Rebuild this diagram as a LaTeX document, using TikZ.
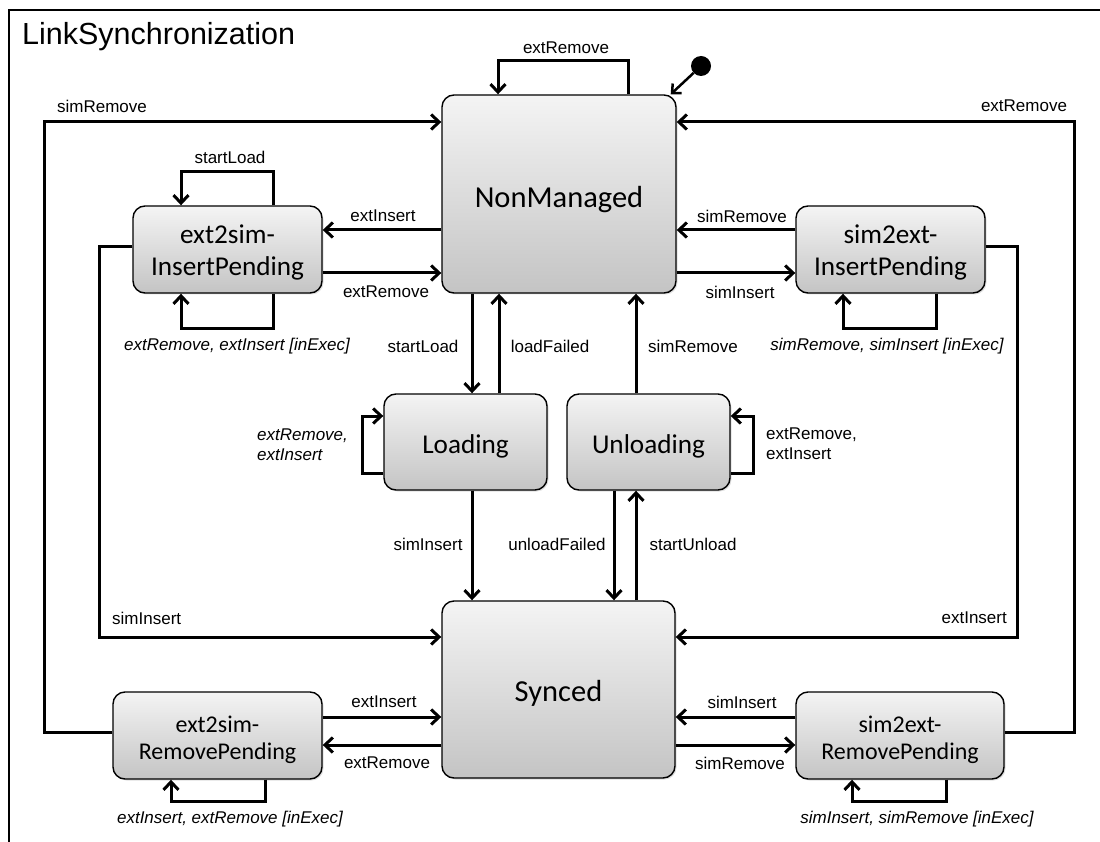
\documentclass[tikz,border=0pt]{standalone}
\usepackage{fontspec}
\setmainfont{Liberation Sans}
\newfontfamily\statefont{Carlito}
\usetikzlibrary{arrows.meta,shadows}

\definecolor{stTop}{RGB}{244,244,244}
\definecolor{stBot}{RGB}{196,196,196}

% state name, set a little below the box centre
\newcommand\stname[2][5pt]{\raisebox{-#1}[\height][\depth]{\begin{tabular}{@{}c@{}}#2\end{tabular}}}

\begin{document}
\begin{tikzpicture}[x=1pt,y=-1pt,
  conn/.style={line width=3pt, -{Straight Barb[length=8pt,width=15pt]}},
  st/.style={draw, line width=1.4pt, rounded corners=12pt,
    top color=stTop, bottom color=stBot, inner sep=0pt, align=center,
    drop shadow={shadow xshift=1.5pt, shadow yshift=-1.5pt, opacity=0.25}},
  bigst/.style={st, font=\statefont\fontsize{30.5}{36}\selectfont},
  midst/.style={st, font=\statefont\fontsize{27.2}{32}\selectfont},
  smallst/.style={st, font=\statefont\fontsize{24}{27}\selectfont},
  lbl/.style={font=\fontsize{17}{20}\selectfont, inner sep=0pt},
  ilbl/.style={font=\fontsize{17}{20}\selectfont\itshape, inner sep=0pt},
]
\useasboundingbox (0,0) rectangle (1100,842);

% frame and title
\draw[line width=1.5pt] (9,842) -- (9,10) -- (1100,10);
\node[anchor=west, inner sep=0pt, font=\fontsize{30.5}{36}\selectfont] (title) at (22,37) {LinkSynchronization};

% states
\node[bigst, minimum width=234, minimum height=198] (nm) at (559,194) {\stname[6pt]{NonManaged}};
\node[bigst, minimum width=233, minimum height=177] (sy) at (558.5,689.5) {\stname[5pt]{Synced}};
\node[midst, minimum width=189, minimum height=87] (eip) at (227.5,249.5) {\stname[4pt]{ext2sim-\\InsertPending}};
\node[midst, minimum width=189, minimum height=87] (sip) at (890.5,249.5) {\stname[4pt]{sim2ext-\\InsertPending}};
\node[midst, minimum width=163, minimum height=96] (ld) at (465.5,442) {\stname{Loading}};
\node[midst, minimum width=163, minimum height=96] (ul) at (648.5,442) {\stname{Unloading}};
\node[smallst, minimum width=209, minimum height=87] (erp) at (217.5,735.5) {\stname{ext2sim-\\RemovePending}};
\node[smallst, minimum width=208, minimum height=87] (srp) at (900,735.5) {\stname{sim2ext-\\RemovePending}};

% initial pseudo-state
\node[circle, fill=black, minimum size=20pt, inner sep=0pt] (init) at (701,66) {};
\draw[line width=2.5pt, -{Straight Barb[length=7pt,width=13pt]}] (init) -- ([xshift=-6pt]nm.north east);

% NonManaged self loop
\draw[conn] (nm.north -| 628,0) -- (628,61) -- (498,61) -- (nm.north -| 498,0);
\node[lbl] (lNmSelf) at (566,48) {extRemove};

% long outer transitions
\draw[conn] (erp.west |- 0,732) -- (44,732) -- (44,122) -- (nm.west |- 0,122);
\node[lbl] (lOutL) at (102,106) {simRemove};
\draw[conn] (srp.east |- 0,732) -- (1074,732) -- (1074,122) -- (nm.east |- 0,122);
\node[lbl] (lOutR) at (1024,106) {extRemove};

\draw[conn] (eip.west |- 0,247) -- (99,247) -- (99,637) -- (sy.west |- 0,637);
\node[lbl, anchor=west] (lInL) at (112,618) {simInsert};
\draw[conn] (sip.east |- 0,247) -- (1017,247) -- (1017,637) -- (sy.east |- 0,637);
\node[lbl, anchor=east] (lInR) at (1007,618) {extInsert};

% ext2sim-InsertPending
\draw[conn] (eip.north -| 273,0) -- (273,172) -- (181,172) -- (eip.north -| 181,0);
\node[lbl] (lEipTop) at (230,157) {startLoad};
\draw[conn] (eip.south -| 273,0) -- (273,328) -- (181,328) -- (eip.south -| 181,0);
\node[ilbl] (lEipBot) at (237,346) {extRemove, extInsert [inExec]};
\draw[conn] (nm.west |- 0,230) -- (eip.east |- 0,230);
\node[lbl] (lEipIn) at (383,216) {extInsert};
\draw[conn] (eip.east |- 0,273) -- (nm.west |- 0,273);
\node[lbl] (lEipOut) at (386,292) {extRemove};

% sim2ext-InsertPending
\draw[conn] (sip.south -| 936,0) -- (936,328) -- (843,328) -- (sip.south -| 843,0);
\node[ilbl] (lSipBot) at (887,346) {simRemove, simInsert [inExec]};
\draw[conn] (sip.west |- 0,230) -- (nm.east |- 0,230);
\node[lbl] (lSipOut) at (742,216) {simRemove};
\draw[conn] (nm.east |- 0,273) -- (sip.west |- 0,273);
\node[lbl] (lSipIn) at (740,292) {simInsert};

% Loading / Unloading
\draw[conn] (nm.south -| 472,0) -- (ld.north -| 472,0);
\node[lbl] (lStartLoad) at (423,346) {startLoad};
\draw[conn] (ld.north -| 499,0) -- (nm.south -| 499,0);
\node[lbl] (lLoadFailed) at (550,346) {loadFailed};
\draw[conn] (ul.north -| 636,0) -- (nm.south -| 636,0);
\node[lbl] (lUlOut) at (693,346) {simRemove};

\draw[conn] (ld.west |- 0,473) -- (362,473) -- (362,416) -- (ld.west |- 0,416);
\node[ilbl, anchor=west, align=left] (lLdSelf) at (257,445) {extRemove,\\extInsert};
\draw[conn] (ul.east |- 0,473) -- (753,473) -- (753,416) -- (ul.east |- 0,416);
\node[lbl, anchor=west, align=left] (lUlSelf) at (766,444) {extRemove,\\extInsert};

\draw[conn] (ld.south -| 472,0) -- (sy.north -| 472,0);
\node[lbl] (lLdDone) at (428,544) {simInsert};
\draw[conn] (ul.south -| 614,0) -- (sy.north -| 614,0);
\node[lbl] (lUnloadFailed) at (557,544) {unloadFailed};
\draw[conn] (sy.north -| 636,0) -- (ul.south -| 636,0);
\node[lbl] (lStartUnload) at (693,544) {startUnload};

% ext2sim-RemovePending
\draw[conn] (erp.east |- 0,717) -- (sy.west |- 0,717);
\node[lbl] (lErpOut) at (384,702) {extInsert};
\draw[conn] (sy.west |- 0,745) -- (erp.east |- 0,745);
\node[lbl] (lErpIn) at (387,763) {extRemove};
\draw[conn] (erp.south -| 265,0) -- (265,801) -- (171,801) -- (erp.south -| 171,0);
\node[ilbl] (lErpBot) at (230,819) {extInsert, extRemove [inExec]};

% sim2ext-RemovePending
\draw[conn] (srp.west |- 0,717) -- (sy.east |- 0,717);
\node[lbl] (lSrpOut) at (742,702) {simInsert};
\draw[conn] (sy.east |- 0,745) -- (srp.west |- 0,745);
\node[lbl] (lSrpIn) at (740,763) {simRemove};
\draw[conn] (srp.south -| 946,0) -- (946,801) -- (852,801) -- (srp.south -| 852,0);
\node[ilbl] (lSrpBot) at (917,819) {simInsert, simRemove [inExec]};

\end{tikzpicture}
\end{document}
